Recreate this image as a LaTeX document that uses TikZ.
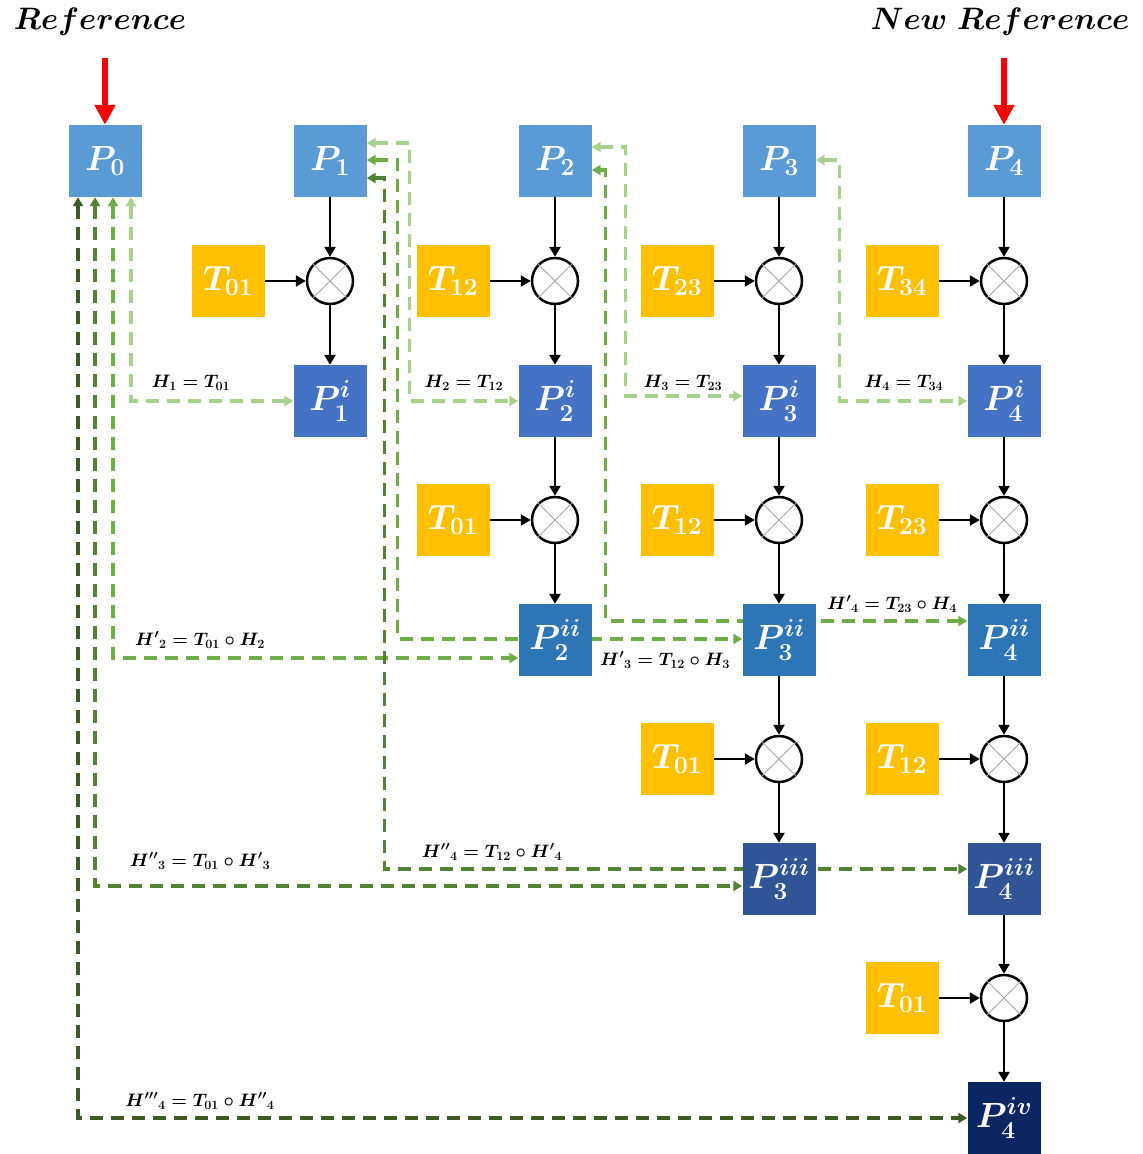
\documentclass[tikz,border=0pt]{standalone}
\usepackage{fix-cm}
\usepackage{amsmath,bm}
\usetikzlibrary{arrows.meta,backgrounds}

\definecolor{pTop}{HTML}{5B9BD5}
\definecolor{pOne}{HTML}{4472C4}
\definecolor{pTwo}{HTML}{2E75B6}
\definecolor{pThree}{HTML}{2F5597}
\definecolor{pFour}{HTML}{0B2660}
\definecolor{tYel}{HTML}{FFC000}
\definecolor{gA}{HTML}{A9D18E}
\definecolor{gB}{HTML}{70AD47}
\definecolor{gC}{HTML}{548235}
\definecolor{gD}{HTML}{3F5A24}
\definecolor{redArr}{HTML}{FF0000}

\tikzset{
  box/.style={minimum width=73pt, minimum height=72pt, inner sep=0pt, text=white,
              font=\fontsize{35}{40}\selectfont\boldmath},
  pbox/.style={box, fill=pTop},
  pibox/.style={box, fill=pOne},
  piibox/.style={box, fill=pTwo},
  piiibox/.style={box, fill=pThree},
  pivbox/.style={box, fill=pFour},
  tbox/.style={box, fill=tYel},
  mult/.style={circle, draw=black, line width=2.5pt, minimum size=46pt, inner sep=0pt, fill=white},
  flow/.style={line width=2.6pt, -{Triangle[length=10pt,width=11pt]}},
  hlink/.style={line width=3.2pt, dash pattern=on 13pt off 8pt,
                {Triangle[length=9pt,width=10pt]}-{Triangle[length=9pt,width=10pt]}},
  hlabel/.style={inner sep=1pt, font=\fontsize{18}{21}\selectfont\boldmath},
  head/.style={inner sep=0pt, font=\fontsize{31}{35}\selectfont\boldmath},
  refarrow/.style={draw=redArr, line width=6pt, -{Triangle[length=20pt,width=20pt]}},
}

% multiplication node with its crossed lines
\newcommand{\multnode}[2]{%
  \node[mult] (#1) at #2 {};
  \draw[gray!70, line width=0.9pt] (#1.north east) -- (#1.south west)
                                   (#1.north west) -- (#1.south east);
}

\begin{document}
\begin{tikzpicture}[x=1pt, y=-1pt]
\useasboundingbox (0,0) rectangle (1143,1154);

% headings and reference arrows
\node[head] (refL) at (100,22) {$Reference$};
\node[head] (refR) at (1000,22) {$New\;Reference$};

% top row of frames
\node[pbox] (P0) at (105,161) {$P_{0}$};
\node[pbox] (P1) at (330,161) {$P_{1}$};
\node[pbox] (P2) at (555,161) {$P_{2}$};
\node[pbox] (P3) at (779,161) {$P_{3}$};
\node[pbox] (P4) at (1004,161) {$P_{4}$};

\coordinate (rL) at (105,58);
\coordinate (rR) at (1004,58);
\draw[refarrow] (rL) -- (P0.north);
\draw[refarrow] (rR) -- (P4.north);

% transforms
\node[tbox] (T1a) at (228,281) {$T_{01}$};
\node[tbox] (T2a) at (453,281) {$T_{12}$};
\node[tbox] (T3a) at (677,281) {$T_{23}$};
\node[tbox] (T4a) at (902,281) {$T_{34}$};
\node[tbox] (T2b) at (453,520) {$T_{01}$};
\node[tbox] (T3b) at (677,520) {$T_{12}$};
\node[tbox] (T4b) at (902,520) {$T_{23}$};
\node[tbox] (T3c) at (677,759) {$T_{01}$};
\node[tbox] (T4c) at (902,759) {$T_{12}$};
\node[tbox] (T4d) at (902,998) {$T_{01}$};

% multipliers
\multnode{X1a}{(330,281)}
\multnode{X2a}{(555,281)}
\multnode{X3a}{(779,281)}
\multnode{X4a}{(1004,281)}
\multnode{X2b}{(555,520)}
\multnode{X3b}{(779,520)}
\multnode{X4b}{(1004,520)}
\multnode{X3c}{(779,759)}
\multnode{X4c}{(1004,759)}
\multnode{X4d}{(1004,998)}

% transformed frames
\node[pibox] (P1i) at (330,401) {$P_{1}^{i}$};
\node[pibox] (P2i) at (555,401) {$P_{2}^{i}$};
\node[pibox] (P3i) at (779,401) {$P_{3}^{i}$};
\node[pibox] (P4i) at (1004,401) {$P_{4}^{i}$};
\node[piibox] (P2ii) at (555,640) {$P_{2}^{ii}$};
\node[piibox] (P3ii) at (779,640) {$P_{3}^{ii}$};
\node[piibox] (P4ii) at (1004,640) {$P_{4}^{ii}$};
\node[piiibox] (P3iii) at (779,879) {$P_{3}^{iii}$};
\node[piiibox] (P4iii) at (1004,879) {$P_{4}^{iii}$};
\node[pivbox] (P4iv) at (1004,1118) {$P_{4}^{iv}$};

% processing chains
\draw[flow] (P1) -- (X1a);  \draw[flow] (X1a) -- (P1i);  \draw[flow] (T1a) -- (X1a);
\draw[flow] (P2) -- (X2a);  \draw[flow] (X2a) -- (P2i);  \draw[flow] (T2a) -- (X2a);
\draw[flow] (P2i) -- (X2b); \draw[flow] (X2b) -- (P2ii); \draw[flow] (T2b) -- (X2b);
\draw[flow] (P3) -- (X3a);  \draw[flow] (X3a) -- (P3i);  \draw[flow] (T3a) -- (X3a);
\draw[flow] (P3i) -- (X3b); \draw[flow] (X3b) -- (P3ii); \draw[flow] (T3b) -- (X3b);
\draw[flow] (P3ii) -- (X3c); \draw[flow] (X3c) -- (P3iii); \draw[flow] (T3c) -- (X3c);
\draw[flow] (P4) -- (X4a);  \draw[flow] (X4a) -- (P4i);  \draw[flow] (T4a) -- (X4a);
\draw[flow] (P4i) -- (X4b); \draw[flow] (X4b) -- (P4ii); \draw[flow] (T4b) -- (X4b);
\draw[flow] (P4ii) -- (X4c); \draw[flow] (X4c) -- (P4iii); \draw[flow] (T4c) -- (X4c);
\draw[flow] (P4iii) -- (X4d); \draw[flow] (X4d) -- (P4iv); \draw[flow] (T4d) -- (X4d);

% homography links (behind the boxes)
\begin{pgfonlayer}{background}
\draw[hlink, draw=gA] ([xshift=26pt]P0.south) |- (P1i.west);
\draw[hlink, draw=gB] ([xshift=8pt]P0.south) |- ([yshift=-18pt]P2ii.west);
\draw[hlink, draw=gC] ([xshift=-10pt]P0.south) |- ([yshift=-7pt]P3iii.west);
\draw[hlink, draw=gD] ([xshift=-27pt]P0.south) |- (P4iv.west);

\draw[hlink, draw=gA] ([yshift=18pt]P1.east) -- ++(43pt,0pt) |- (P2i.west);
\draw[hlink, draw=gB] ([yshift=1pt]P1.east) -- ++(31pt,0pt) |- ([yshift=1pt]P3ii.west);
\draw[hlink, draw=gC] ([yshift=-17pt]P1.east) -- ++(18pt,0pt) |- ([yshift=10pt]P4iii.west);

\draw[hlink, draw=gA] ([yshift=14pt]P2.east) -- ++(34pt,0pt) |- ([yshift=5pt]P3i.west);
\draw[hlink, draw=gB] ([yshift=-9pt]P2.east) -- ++(14pt,0pt) |- ([yshift=19pt]P4ii.west);

\draw[hlink, draw=gA] ([yshift=1pt]P3.east) -- ++(24pt,0pt) |- (P4i.west);
\end{pgfonlayer}

% link labels
\node[hlabel] (h1) at (191,383) {$H_{1} = T_{01}$};
\node[hlabel] (h2) at (464,383) {$H_{2} = T_{12}$};
\node[hlabel] (h3) at (683,383) {$H_{3} = T_{23}$};
\node[hlabel] (h4) at (904,383) {$H_{4} = T_{34}$};
\node[hlabel] (h2p) at (200,640) {${H'}_{2} = T_{01}\circ H_{2}$};
\node[hlabel] (h3p) at (665,660) {${H'}_{3} = T_{12}\circ H_{3}$};
\node[hlabel] (h4p) at (892,604) {${H'}_{4} = T_{23}\circ H_{4}$};
\node[hlabel] (h3pp) at (200,861) {${H''}_{3} = T_{01}\circ {H'}_{3}$};
\node[hlabel] (h4pp) at (492,852) {${H''}_{4} = T_{12}\circ {H'}_{4}$};
\node[hlabel] (h4ppp) at (200,1101) {${H'''}_{4} = T_{01}\circ {H''}_{4}$};
\end{tikzpicture}
\end{document}
